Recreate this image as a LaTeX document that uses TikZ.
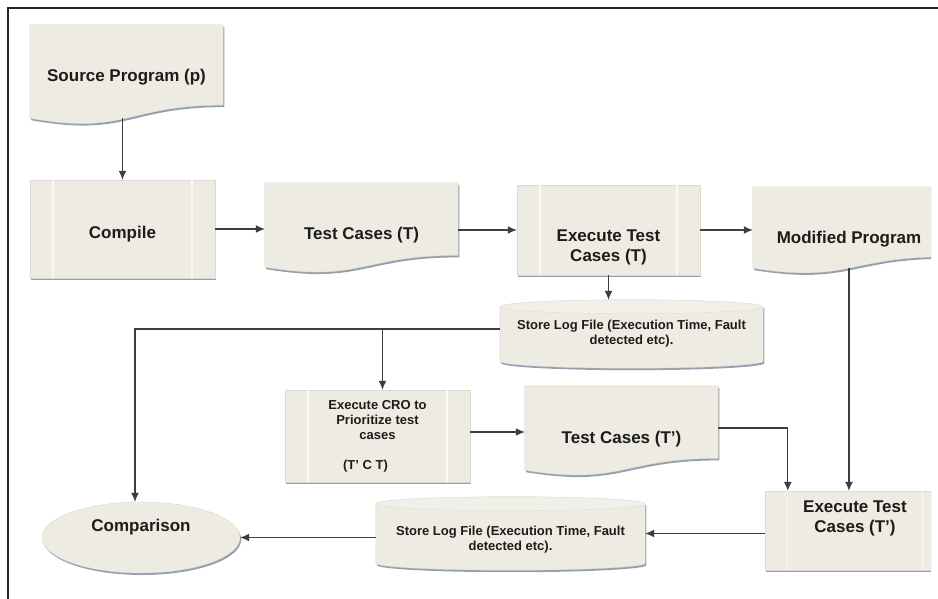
\documentclass[tikz,border=0pt]{standalone}
\usepackage{fontspec}
\setmainfont{Liberation Sans}
\usepackage{tikz}
\usetikzlibrary{arrows.meta,calc,backgrounds,shadows}
\usetikzlibrary{shapes.geometric}
\definecolor{beige}{RGB}{238,236,226}
\definecolor{ombre}{RGB}{150,160,172}
\definecolor{filet}{RGB}{250,248,243}
\definecolor{encre}{RGB}{28,28,28}
\newcommand\grand{\bfseries\fontsize{17}{20}\selectfont}
\newcommand\petit{\bfseries\fontsize{13}{15}\selectfont}
\tikzset{forme/.style={fill=beige,draw=beige!92!black,line width=.4pt,
    drop shadow={shadow xshift=1.2pt,shadow yshift=-2pt,fill=ombre,opacity=1}},
  fleche/.style={-{Latex[length=9pt,width=8pt]},line width=1.1pt,draw=encre!85}}
% document (wavy bottom)
\newcommand\docforme[1]{\path[forme] (#1.north west) -- (#1.north east)
    -- ($(#1.north east)!.86!(#1.south east)$)
    .. controls ($(#1.north)!.86!(#1.south)$) and ($(#1.north)!1.186!(#1.south)$) .. (#1.south west) -- cycle;}
% predefined process
\newcommand\procforme[1]{\path[forme] (#1.north west) rectangle (#1.south east);
  \draw[filet,line width=1.6pt] ($(#1.north west)!.125!(#1.north east)$) -- ($(#1.south west)!.125!(#1.south east)$);
  \draw[filet,line width=1.6pt] ($(#1.north west)!.875!(#1.north east)$) -- ($(#1.south west)!.875!(#1.south east)$);}
% stored data (can)
\newcommand\canforme[1]{\path[forme] let \p1=(#1.north west), \p2=(#1.south east), \n1={(\x2-\x1)/2} in
    (\x1,\y1-7pt) -- (\x1,\y2+7pt) arc[start angle=180,end angle=360,x radius=\n1,y radius=7pt]
    -- (\x2,\y1-7pt) arc[start angle=0,end angle=180,x radius=\n1,y radius=7pt] -- cycle;
  \path[fill=beige!80!white,draw=beige!94!black,line width=.4pt] let \p1=(#1.north west), \p2=(#1.south east), \n1={(\x2-\x1)/2} in
    (\x1,\y1-7pt) arc[start angle=180,end angle=540,x radius=\n1,y radius=7pt];}

\begin{document}
\begin{tikzpicture}[x=1pt,y=-1pt]%
        \useasboundingbox (0,0) rectangle (938,599);%%
        \begin{scope}[inner sep=0pt,text=encre,align=center]
        \tikzstyle{every node}=[font=\grand] %%
        \node[minimum width=193pt,minimum height=93pt,text height=22.8pt] (src) at (126.5,71.5) {Source Program (p)}; %%
        \node[minimum width=185pt,minimum height=98pt,text height=21.8pt] (cmp) at (122.5,229) {Compile}; %%
        \node[minimum width=193pt,minimum height=84pt,text height=31.8pt] (tc) at (361.5,225) {Test Cases (T)}; %%
        \node[minimum width=183pt,minimum height=90pt] (ext) at (608.5,230) {\rule{0pt}{45.8pt}Execute Test\\Cases (T)}; %%
        \node[minimum width=192pt,minimum height=81pt,text height=34.8pt] (mod) at (849,227.5) {Modified Program}; %%
        \node[minimum width=193pt,minimum height=84pt,text height=33.8pt] (tc2) at (621.5,428) {Test Cases (T')}; %%
        \node[minimum width=180pt,minimum height=79pt] (exc2) at (855,530.5) {Execute Test\\Cases (T')\rule[-27pt]{0pt}{0pt}}; %%
        \node[forme,ellipse,minimum width=198pt,minimum height=71pt,text depth=25.2pt] (cmpr) at (141,537.5) {Comparison}; %%
        \end{scope}
        \begin{scope}[inner sep=0pt,text=encre,align=center]
        \tikzstyle{every node}=[font=\petit] %%
        \node[minimum width=263pt,minimum height=68pt] (log1) at (631.5,334) {Store Log File (Execution Time, Fault\\detected etc).}; %%
        \node[minimum width=185pt,minimum height=92pt] (cro) at (377.5,436) {Execute CRO to\\Prioritize test\\cases\\[15pt](T' C T)\hspace*{24pt}}; %%
        \node[minimum width=269pt,minimum height=73pt] (log2) at (510.5,533.5) {\rule{0pt}{22pt}Store Log File (Execution Time, Fault\\detected etc).}; %%
        \end{scope}
        \begin{scope}[on background layer]
        \clip (0,0) rectangle (931,599); %%
        \docforme{src} \docforme{tc} \docforme{mod} \docforme{tc2} %%
        \procforme{cmp} \procforme{ext} \procforme{cro} \procforme{exc2} %%
        \canforme{log1} \canforme{log2} %%
        \end{scope}
        \draw[line width=1.6pt,black!85] (8,599) -- (8,8) -- (938,8); %%
        \coordinate (logout) at ([yshift=5pt]log1.west); %%
        \coordinate (crotop) at ([xshift=5pt]cro.north); %%
        \coordinate (croout) at ([yshift=4pt]cro.east); %%
        \coordinate (cmprtop) at ([xshift=-6pt]cmpr.north); %%
        \coordinate (exc2in) at ([xshift=23pt]exc2.north west); %%
        \draw[fleche] (src.south -| cmp.north)--(cmp.north); %%
        \draw[fleche] (cmp.east)--(cmp.east -| tc.west); %%
        \draw[fleche] (ext.west -| tc.east)--(ext.west); %%
        \draw[fleche] (ext.east)--(ext.east -| mod.west); %%
        \draw[fleche] (ext.south)--(ext.south |- log1.north); %%
        \draw[fleche] (logout) -| (cmprtop); %%
        \draw[fleche] (crotop |- logout)--(crotop); %%
        \draw[fleche] (croout)--(croout -| tc2.west); %%
        \draw[fleche] (tc2.east) -| (exc2in); %%
        \draw[fleche] (mod.south)--(mod.south |- exc2.north); %%
        \draw[fleche] (log2.east -| exc2.west)--(log2.east); %%
        \draw[fleche] (cmpr.east -| log2.west)--(cmpr.east); %%
\end{tikzpicture}
\end{document}
